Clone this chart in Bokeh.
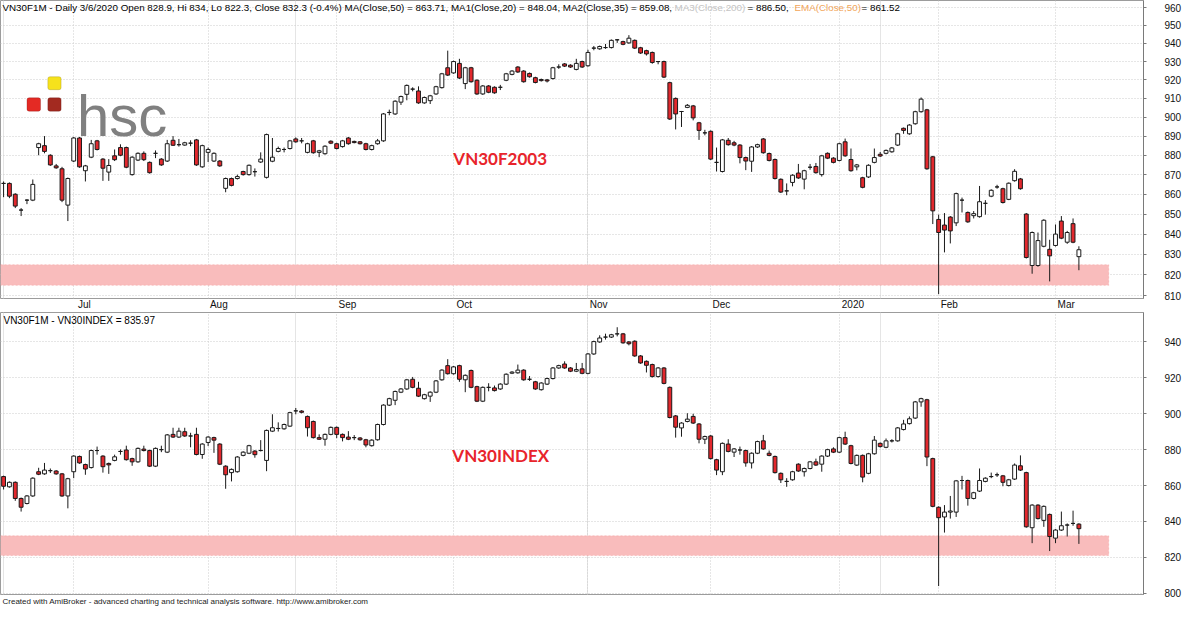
from bokeh.plotting import figure
from bokeh.models import (Range1d, FixedTicker, BasicTickFormatter, ColumnDataSource,
                          Label, BoxAnnotation, Title, Grid, LinearAxis)
from bokeh.layouts import column
from bokeh.embed import file_html
from bokeh.resources import INLINE

# ---------------- data ----------------
month_labels = ["Jul", "Aug", "Sep", "Oct", "Nov", "Dec", "2020", "Feb", "Mar"]
month_start_bar = [12, 35, 57, 77, 100, 121, 143, 160, 180]

f_open = [865.5,865.5,860,852,857,857,884,885,880,874.5,
873,854.5,877,889,872,879,887.5,878,871.3,879.7,
884,884,870,877.5,881,876.3,881,878,877,887.8,
885.5,885.3,886.3,888,874,881.5,877,877,863,868,
868,871.6,870,871.5,876.5,868.6,876.9,882,883,883.5,
888.5,887.5,881.5,887.5,881.5,880.8,887.3,886,884.5,889,
887.2,887,886,883,886,887.5,902.5,901.7,908,912.2,
915,914,907.6,908.8,912.4,915.8,926.6,923.8,929,918,
926.6,919.8,912.4,916.7,916,916,919.8,923,927,924.8,
923.5,921.2,920.2,920,920.7,927,928.7,928,925.7,930,
927.7,937.4,937,937.7,937.7,942,941,940.3,941.7,937.6,
936,935,930,930,918.5,910,903,905.2,906,897,
891.7,892.5,876.3,871.6,887.8,886.5,885.3,878.8,876.9,884.3,
888.5,880.9,877.8,867.6,861.7,866,870.8,867.7,873.8,874.2,
870,881,878.5,877.3,887,877.8,874,868.4,868.8,876.3,
880.5,881,881.8,885.3,894.1,891.2,896.5,902.9,903.9,879.2,
847.3,844.5,848.5,845.6,857,850.8,849.2,848.7,855.4,859,
863.7,862.8,857.4,866.9,867.8,850,824.6,824.6,834,832.5,
834.4,846.5,836,845.2,828.9]
f_high = [866.5,866,860.5,853,857.5,867.5,886.5,890,880.5,875.5,
874,868.5,889.5,889.5,875,888,888,878.5,878,883,
885.7,884.5,879.5,881.5,882,876.8,882.5,878.5,888,890,
888.5,887,887.8,888.5,885.5,884,881.5,877.5,868.5,868.5,
870,872,875.2,873.2,881.5,891.3,889,884.5,884,888,
889.3,889,886.5,888,882.8,885.2,887.8,886.5,888,889.5,
887.6,887.4,886.5,885.5,888.5,902.2,904,909,911.5,917.5,
916,916.5,911,911.9,916.8,923.8,936,930.5,931.5,927.1,
927.1,920.3,917.2,917.2,916.5,917.3,923.8,925.3,927.5,925.3,
924,921.7,920.7,920.5,927.1,928.5,929.2,928.5,931.5,930.5,
936.5,938.6,938.8,939.7,942.2,942.3,941.5,944.6,942.2,938.1,
936.5,935.5,930.3,930.5,919,910.5,903.3,907,906.5,897.5,
893.3,893,884,888.5,889,887.5,885.8,879.3,884.8,886,
889,881.4,878.3,868.1,865.5,870.2,875.5,872.5,875.5,876,
880.2,881.5,879,886.5,888.7,883.5,875.5,868.9,875.3,883.5,
881.7,883,884.3,891.7,894.5,896.3,903.4,910.5,904.4,879.7,
849.7,850.5,849,860.8,858.3,851.3,851.5,864.2,857,862.5,
864.8,863.3,866,872.8,868.3,850.5,841.3,840.8,847.4,837.2,
844.8,849,841.6,847.8,834]
f_low = [858.5,858,853,849,855,856.5,880,881,874.5,873,
856,846.5,876.5,873.5,866.5,878.5,882.5,866.8,866.8,877,
879.5,873.3,869.5,877,877,870.5,878.5,874.5,876.5,884.8,
884.5,885,884.7,874.5,873.5,876.5,876.5,874,861,864,
867.5,869.5,869.5,869,876,868,876.4,881.5,881.5,883,
886.5,886.2,881,880.8,879,880.3,885.8,883,884,885.5,
886.2,885.6,882.5,882.5,885.5,887,901,901.2,906.5,909,
913.8,907.1,907.1,907,911.9,915.3,922.1,923.3,920.5,915,
918.5,911.9,911.9,912.8,912.5,914.5,919.3,922.5,923.8,918.5,
921.2,918.1,919.1,918.6,920.2,926,927,926.5,925.2,926.5,
927.2,936.2,936.5,937,937.2,940.3,939,939.8,936.9,934.2,
933.3,928.8,928.5,921,898.5,893.5,894.8,904.8,898.3,888,
890.4,877.5,871.6,871.1,885,884.7,875.8,872.3,871.4,883.8,
880.8,876.8,867.5,860.6,859.5,864,867.8,862.5,872.5,870.5,
869,878,875.8,876.8,879.2,871.5,872.2,863,868.3,875.8,
879.1,880.5,881.3,884.8,891.2,890.7,896,902.4,872.5,845,
810.8,831,835.4,844,850.8,845.6,847.8,848.2,849.7,858.5,
862.8,855.3,857,866.4,862.3,828,820.6,824,833.5,816.9,
833.9,837.5,835.2,835.5,822.3]
f_close = [865.5,859,854,852,857,865,886,882,875,873.5,
857,868,889,874,874.5,886,883,873.3,874.7,877.7,
880,873.8,879,881,877.7,871,881,875,886,885.2,
885.5,886.5,886.3,875,885,883,881,874.5,868,864.5,
869,870,874.8,871.5,878,890.8,879,883.5,883,887.5,
887,887.5,886,881.3,882.3,884.7,886.3,883.5,887.5,886,
886.6,886,883,885,887.5,901.7,902.5,908.5,911,917,
915,907.6,910.5,911.4,916.3,923.3,922.6,930,921,926.6,
919,912.4,916.7,913.3,913,916,923.3,924.8,924.3,919,
921.7,918.6,919.6,919.4,926.6,927,927.5,927,929,927,
935,937.4,938.3,937.7,941.7,942,939.5,942.9,937.4,934.7,
934.2,929.5,930,921.5,899,901.7,903,906.3,899.6,893,
891.7,878,876.3,888,885.5,885.3,878.8,877,884.3,885.5,
881.3,877.3,868,861.1,861.7,869.7,868.3,872,873.8,871,
879.7,878.5,876.3,886,879.7,872,875,863.5,874.8,878.8,
879.6,882.5,883.8,891.2,893,895.8,902.9,909.6,873,851.6,
840.8,842,841.6,860.3,857,846.1,850.2,856.2,855.4,862,
863.7,855.8,865.6,871.7,862.8,828.5,840.8,836.8,846.9,829.3,
840,838,840.8,836,832.3]

i_open = [865,859.3,861.8,852.8,850,854.2,867.7,866.5,868.3,868.1,
866.5,854.2,867.7,876.2,871.7,870,879.5,876.4,872.3,874,
879,879.8,875,873.2,880.3,879.5,870.8,880,878.6,888.5,
887,890,887.6,888.5,877.3,884,886.7,883.1,870.8,867.2,
867.7,876.8,878,879.2,879.5,874,890.3,891.8,891.6,893.1,
901.6,901.5,898.5,895.7,886.7,885.8,888.5,892.4,888.5,887,
886.7,886.5,885.5,882.2,885.5,894,904.8,907.5,912,913.8,
919.2,914.2,908.4,909.8,912,918.9,926.8,922.3,926.8,918.9,
924.1,915.1,907,914.7,914.4,913.8,916.5,922.6,922.8,924.3,
919.2,917.8,913.4,916.5,919.6,925.5,927.7,925.5,923.7,925,
922.5,933.3,940,942.7,942.7,944.5,944.5,940,940.4,932.2,
929.2,927.4,920.7,925.5,914.7,898.8,892.1,895.7,898.5,894.3,
885.8,887.6,874.4,867.7,883.1,878.6,879.8,879.5,872.6,878,
884.9,878,876.2,866.8,862.3,863.2,871.9,867.7,869.5,873.2,
871.9,876.4,880.4,878.6,886.7,882.2,871.4,876.8,866.8,877.7,
883.5,881.3,884.9,884.9,891.2,894.5,897.6,906.6,907.8,875,
847.9,842.5,845.2,845.2,862.8,862.8,852.8,856.9,862.3,865,
866,865.4,860,863.6,871,867.2,836.5,849.1,840.6,843.9,
830.7,835.2,838,838.9,838.5]
i_high = [865.5,862.3,862.3,853.3,854.7,864.6,869.9,872.6,869.5,868.6,
867,864.3,876.9,876.7,872.2,880,881.7,876.9,872.8,877.2,
880.1,882.2,875.5,881.2,882.2,880,881.2,882.2,888.7,892.2,
892.2,892.2,889.4,892.2,883.6,887.5,887.2,883.6,871.3,869.5,
876.4,879.1,882.7,879.7,885.3,891.2,899.7,895.2,894.5,901.1,
903.2,902,899,896.2,888.5,889,892.9,892.9,889,890.3,
888.1,887,886,885.8,894.5,905.3,908.9,912.9,914.3,919.4,
920.5,917.8,911.1,912.5,918.8,924.8,930.4,926.6,927.3,921.9,
924.6,915.6,915.2,917,915.7,917,922.5,923.7,927.4,924.8,
921,918.3,917.6,920.1,926,927.3,929.2,926,928.3,928.3,
933.8,940.7,943.7,944.6,944.5,948.2,945,940.5,940.9,932.7,
929.7,927.9,926,926,915.2,899.3,895.3,900.3,900,894.8,
887.8,888.1,874.9,884,885.8,880.9,881.7,880,878.5,885,
888.2,879.5,876.7,867.3,864.1,868.2,872.4,870,873.7,875,
876.9,880.5,881.3,887.2,890,882.7,877.3,877.3,878.2,887.6,
884,886.2,885.8,892.6,896.6,898.5,907.1,908.9,908.3,875.5,
848.4,849.1,854.2,863.1,865.4,863.3,856.5,869.5,864.6,867.2,
867.2,865.9,863.7,872.3,876.8,867.7,849.6,849.6,848.9,844.4,
835.7,845.5,838.9,846,839]
i_low = [857.8,858.8,851.5,845.5,849.5,853.7,865.8,866,867,866,
853.7,847.3,864.1,872.1,866,869.5,877.2,867.2,866.5,873.5,
877.2,873.9,871,872.7,879,870.3,870.3,878.6,878.1,886.5,
886.5,887.1,881.3,876.8,874.9,882,878.2,871.4,858.2,862.3,
867.2,876.3,877.5,875.5,879,868,889.8,890.1,891.1,892.6,
899.7,900.2,887.3,886.2,885.4,882.2,888,886.4,884.6,885.3,
885.3,885,881.3,881.7,885,893.5,904.3,904.8,911.5,913.3,
914.2,909.3,907.9,906.6,911.5,918.4,921.8,921.8,917.8,912,
914.2,906.5,906.5,912.5,912.4,913.3,916,922.1,922.3,918.4,
918.3,913.3,912.9,916,919.1,925,925,923.2,923.2,922,
922,932.8,939.5,941.3,942.2,943.1,939,938.1,931.7,927.8,
923,920.2,920.2,916.4,897.4,886.7,887.2,895.2,894.3,883.5,
883.1,874.5,865.8,865.8,878.5,875.9,877.2,870.5,869.5,877.5,
879.9,876.3,866.7,861.4,859.3,862.7,867.6,865,869,870.9,
867.7,875.9,878.1,878.1,882.6,871.8,870.9,861.8,866.3,877.2,
881.2,880.8,884,884.4,890.7,894,897.1,903.9,870.8,847.9,
804,833.8,841.6,842.5,857.8,848.8,852.3,856.4,861.8,864.1,
864.8,859.6,859.5,863.1,868.1,836.5,827.9,841.1,837,823.5,
827.9,834.7,831.6,837.6,827.5]
i_close = [859.6,861.8,852.8,847.9,854.2,864.1,866.3,868.6,868.3,866.5,
854.2,863.8,876.4,872.6,869.2,879.5,879.5,870.5,871.5,876,
879,874.4,873.2,880.7,879.5,870.8,880.7,880,888.2,887,
890.3,887.6,887.6,877.3,883.1,887,885.3,871.9,866,869,
875.9,878.6,882.2,877.2,879.5,890.7,892.2,891.8,894,900.6,
901.6,900.8,892.2,886.7,885.8,888.5,892.4,888.5,886.7,885.8,
886.7,885.5,882.6,885.3,894,904.8,908.4,912.4,913.8,918.9,
914.7,909.8,910.6,912,918.3,924.3,922.3,926.1,919.2,921.4,
914.7,907,914.7,914.7,912.9,916.5,922,923.2,924.3,918.9,
919.2,913.8,917.1,919.6,925.5,926.8,925.5,923.7,924.6,922.5,
933.3,940.2,942.2,942.7,944,944.5,939.5,939,932.2,928.3,
927,920.7,925.5,916.9,897.9,892.5,894.8,897,894.8,885.8,
887.3,875,868.6,883.5,879,880.4,879.8,872.6,878,884.5,
880.4,876.8,867.2,863.2,862.3,867.7,868.1,869.5,873.2,871.4,
876.4,880,878.6,886.7,883.1,872.3,876.8,864.7,877.7,885.3,
881.7,884.9,884.9,892.1,894.3,897.2,906.6,908.4,875.9,848.4,
842.1,845.2,845.8,862.6,862.8,852.8,856,862.8,864.1,865,
866,861.8,863.2,871.4,868.6,837,849.1,841.6,848.4,831.6,
835.2,837.6,838,838.9,835.97]

f_ticks = [810, 820, 830, 840, 850, 860, 870, 880, 890, 900, 910, 920, 930, 940, 950, 960]
i_ticks = [800, 820, 840, 860, 880, 900, 920, 940]
f_zone = (815, 825)
i_zone = (821, 832)

title_parts = [
    "VN30F1M - Daily 3/6/2020 Open 828.9, Hi 834, Lo 822.3, Close 832.3 (-0.4%) MA(Close,50) = 863.71, MA1(Close,20) = 848.04, MA2(Close,35) = 859.08,",
    "MA3(Close,200)",
    "= 886.50,",
    "EMA(Close,50)",
    "= 861.52",
]
title_colors = ["#000000", "#c4c4c4", "#000000", "#f2a65a", "#000000"]
sub_title = "VN30F1M - VN30INDEX = 835.97"
footer = "Created with AmiBroker - advanced charting and technical analysis software. http://www.amibroker.com"

# ---------------- layout ----------------
FW = 1143
RB = 41
FONT = "Liberation Sans"
GRID_C = "#cdcdcd"
BAR_PX = 5.885
X0_PX = 3.1
xr = Range1d(-X0_PX / BAR_PX, (1151 - X0_PX) / BAR_PX)
RED = "#e2282d"
EDGE = "#1a1a1a"
TOP_YR = (808.7, 964.1)
BOT_YR = (799.3, 956.4)
PX_PER_BAR = FW / (xr.end - xr.start)


def px_to_bar(px):
    """reference-pixel x -> bar coordinate"""
    return (px - X0_PX) / BAR_PX


def fpx_to_bar(px):
    """pixel x inside my frame -> bar coordinate"""
    return xr.start + px / FW * (xr.end - xr.start)


def panel(o, h, l, c, yr, log, ticks, fh, zone, mb=0):
    p = figure(frame_width=FW, frame_height=fh, x_range=xr, y_range=Range1d(*yr),
               y_axis_type="log" if log else "linear", x_axis_location=None,
               y_axis_location="right", toolbar_location=None, output_backend="svg",
               min_border_left=0, min_border_right=RB, min_border_top=0,
               min_border_bottom=mb, background_fill_color="white",
               border_fill_color="white", outline_line_color="#9c9c9c")
    p.yaxis.ticker = FixedTicker(ticks=ticks)
    p.yaxis.formatter = BasicTickFormatter(use_scientific=False)
    p.yaxis.axis_line_color = "#7a7a7a"
    p.yaxis.major_tick_line_color = "#7a7a7a"
    p.yaxis.major_tick_out = 3
    p.yaxis.major_tick_in = 0
    p.yaxis.minor_tick_line_color = None
    p.yaxis.major_label_standoff = 18
    p.yaxis.major_label_text_font = FONT
    p.yaxis.major_label_text_font_size = "10px"
    p.yaxis.major_label_text_color = "#111111"
    p.ygrid.ticker = FixedTicker(ticks=ticks)
    p.ygrid.grid_line_color = GRID_C
    p.ygrid.grid_line_dash = "1 2"
    g = Grid(dimension=0, ticker=FixedTicker(ticks=month_start_bar),
             grid_line_color=GRID_C, grid_line_dash="1 2")
    p.add_layout(g)
    p.add_layout(BoxAnnotation(left=xr.start, right=px_to_bar(1116), bottom=zone[0], top=zone[1],
                               fill_color="#f9bcbc", fill_alpha=1.0, line_color="#ef7f7f",
                               line_dash="2 2", line_width=1, level="underlay"))
    n = len(o)
    src = ColumnDataSource(dict(
        x=list(range(n)), o=o, h=h, l=l, c=c,
        top=[max(a, b) for a, b in zip(o, c)],
        bottom=[min(a, b) for a, b in zip(o, c)],
        fill=[RED if cc < oo else "white" for oo, cc in zip(o, c)],
    ))
    p.segment(x0="x", y0="l", x1="x", y1="h", source=src, line_color=EDGE, line_width=1)
    p.vbar(x="x", width=0.66, top="top", bottom="bottom", fill_color="fill",
           line_color=EDGE, line_width=1, source=src)
    return p


top = panel(f_open, f_high, f_low, f_close, TOP_YR, True, f_ticks, 298, f_zone, mb=12)
bot = panel(i_open, i_high, i_low, i_close, BOT_YR, False, i_ticks, 282, i_zone, mb=14)

# month axis between the panels: labels sit just right of each month gridline
lab_ticks = [round(m + (2 + 2.9 * len(t)) / PX_PER_BAR, 2) for m, t in zip(month_start_bar, month_labels)]
xax = LinearAxis(ticker=FixedTicker(ticks=lab_ticks),
                 major_label_overrides={tk: t for tk, t in zip(lab_ticks, month_labels)},
                 axis_line_color=None, major_tick_line_color=None, minor_tick_line_color=None,
                 major_tick_in=0, major_tick_out=0, major_label_standoff=0,
                 major_label_text_font=FONT, major_label_text_font_size="10px",
                 major_label_text_color="#111111")
top.add_layout(xax, "below")

# title segments (top panel), laid out one after another
TFS = 9.8
seg_w = [669, 70, 44, 64, 41]   # approximate rendered widths at TFS
xpos = 2
for txt, col, w in zip(title_parts, title_colors, seg_w):
    top.add_layout(Label(x=fpx_to_bar(xpos), y=963.0, text=txt, text_color=col,
                         text_font=FONT, text_font_size=f"{TFS}px", text_baseline="top",
                         text_align="left"))
    xpos += w + 3
bot.add_layout(Label(x=px_to_bar(3), y=954.8, text=sub_title, text_color="#000000",
                     text_font=FONT, text_font_size="10px", text_baseline="top",
                     text_align="left"))

# logo
top.add_layout(BoxAnnotation(left=px_to_bar(47.7), right=px_to_bar(61), bottom=914.7, top=921.7,
                             fill_color="#f6e21c", fill_alpha=1, line_color="#8c7b05", border_radius=2))
top.add_layout(BoxAnnotation(left=px_to_bar(26.7), right=px_to_bar(40.3), bottom=903.2, top=910.3,
                             fill_color="#e42a24", fill_alpha=1, line_color="#7a1212", border_radius=2))
top.add_layout(BoxAnnotation(left=px_to_bar(47.7), right=px_to_bar(61), bottom=903.2, top=910.3,
                             fill_color="#a32a20", fill_alpha=1, line_color="#5a1010", border_radius=2))
top.add_layout(Label(x=px_to_bar(77), y=900.9, text="hsc", text_color="#808080", text_font=FONT,
                     text_font_size="58px", text_baseline="alphabetic", text_align="left"))

# red captions
top.add_layout(Label(x=px_to_bar(456), y=878.5, text="VN30F2003", text_color="#e8242b",
                     text_font="Lato", text_font_style="bold", text_font_size="17px",
                     text_baseline="middle", text_align="left"))
bot.add_layout(Label(x=px_to_bar(455), y=876.5, text="VN30INDEX", text_color="#e8242b",
                     text_font="Lato", text_font_style="bold", text_font_size="17px",
                     text_baseline="middle", text_align="left"))

# last value boxes on the right axis
for p, v, t in ((top, f_close[-1], "832.3"), (bot, i_close[-1], "835.97")):
    p.add_layout(Label(x=xr.end, y=v, text="\u25c0", text_color="black", text_font="DejaVu Sans",
                       text_font_size="10px", text_baseline="middle", text_align="left", x_offset=0))
    p.add_layout(Label(x=xr.end, y=v, text=t, text_color="white", text_font=FONT,
                       text_font_size="10px", text_baseline="middle", text_align="left",
                       x_offset=8, background_fill_color="black", padding=1))

# footer
bot.add_layout(Title(text=footer, align="left", text_font=FONT, text_font_size="8px",
                     text_font_style="normal", text_color="#222222", standoff=1, offset=2), "below")

layout = column(top, bot, spacing=0)
open("out.html", "w").write(file_html(layout, INLINE))
